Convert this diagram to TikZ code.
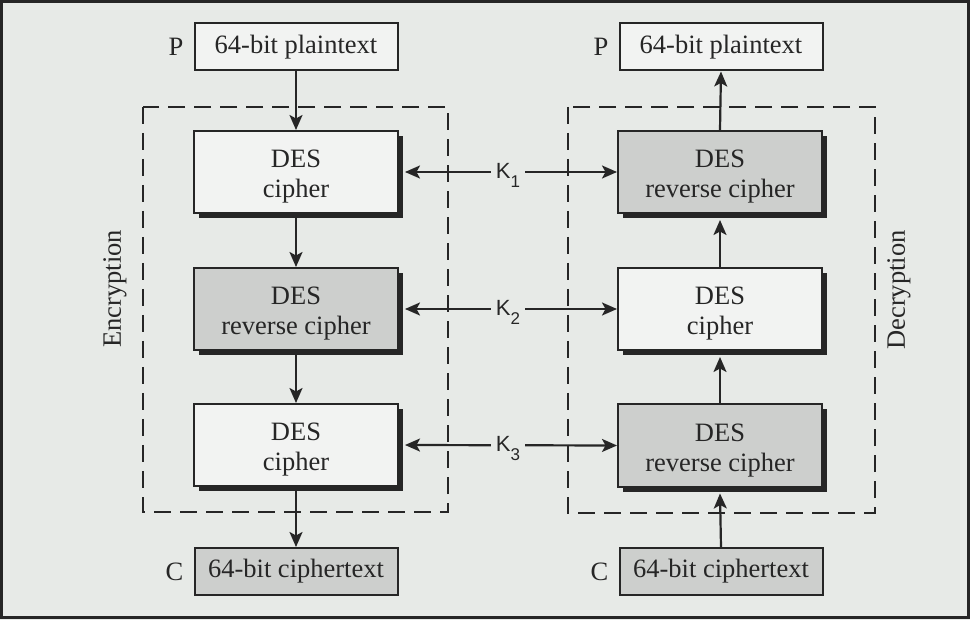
\documentclass[tikz,border=0pt]{standalone}
\usepackage{fontspec}
\setmainfont{Liberation Serif}
\newfontfamily\keyfont{Liberation Sans}
\usetikzlibrary{arrows.meta,shadows,calc}
\definecolor{bg}{HTML}{E7EAE7}
\definecolor{wbox}{HTML}{F2F3F2}
\definecolor{gbox}{HTML}{CDCFCD}
\definecolor{ink}{HTML}{262626}
\newcommand{\twolines}[2]{\raisebox{-5pt}[\height][\depth]{\begin{tabular}{@{}c@{}}#1\\#2\end{tabular}}}
\newcommand{\keytext}[1]{K\raisebox{-9pt}{\fontsize{17}{17}\selectfont #1}}
\begin{document}
\begin{tikzpicture}[x=1pt,y=-1pt,
  every node/.style={font=\fontsize{26.5}{30}\selectfont, text=ink},
  iobox/.style={draw=ink, line width=2pt, minimum width=203pt, minimum height=47pt, inner sep=0pt},
  desbox/.style={draw=ink, line width=2pt, minimum width=204pt, minimum height=82pt, inner sep=0pt,
     general shadow={fill=ink, opacity=1, shadow xshift=5pt, shadow yshift=-5pt}},
  lab/.style={inner sep=0pt, anchor=east},
  keylab/.style={font=\keyfont\fontsize{22}{22}\selectfont, fill=bg, inner xsep=5pt, inner ysep=1pt},
  arr/.style={draw=ink, line width=2.2pt, -{Stealth[length=15pt,width=13pt,inset=3.5pt]}},
  darr/.style={draw=ink, line width=2.2pt, {Stealth[length=15pt,width=13pt,inset=3.5pt]}-{Stealth[length=15pt,width=13pt,inset=3.5pt]}},
  dashbox/.style={draw=ink, line width=2.8pt, dash pattern=on 17pt off 9pt}
]
\fill[bg] (0,0) rectangle (970,620);
\useasboundingbox (0,0) rectangle (970,620);
\draw[ink, line width=3pt] (1.5,1.5) rectangle (968,617.5);

% dashed frames
\draw[dashbox] (143,107) rectangle (448,512);
\draw[dashbox] (568,107) rectangle (875,513);

% left column (encryption)
\node[iobox, fill=wbox] (pL) at (296,47) {64-bit plaintext};
\node[lab] (pLl) at ($(pL.west)+(-10,0)$) {P};
\node[desbox, fill=wbox] (b1L) at (296,172) {\twolines{DES}{cipher}};
\node[desbox, fill=gbox] (b2L) at (296,309) {\twolines{DES}{reverse cipher}};
\node[desbox, fill=wbox] (b3L) at (296,445) {\twolines{DES}{cipher}};
\node[iobox, fill=gbox] (cL) at (296,571.5) {64-bit ciphertext};
\node[lab] (cLl) at ($(cL.west)+(-10,0)$) {C};

% right column (decryption)
\node[iobox, fill=wbox] (pR) at (721,47) {64-bit plaintext};
\node[lab] (pRl) at ($(pR.west)+(-10,0)$) {P};
\node[desbox, fill=gbox] (b1R) at (720,172) {\twolines{DES}{reverse cipher}};
\node[desbox, fill=wbox] (b2R) at (720,309) {\twolines{DES}{cipher}};
\node[desbox, fill=gbox] (b3R) at (720,445.5) {\twolines{DES}{reverse cipher}};
\node[iobox, fill=gbox] (cR) at (721,571.5) {64-bit ciphertext};
\node[lab] (cRl) at ($(cR.west)+(-10,0)$) {C};

% side labels
\node[rotate=90] (enc) at (115,289) {Encryption};
\node[rotate=90] (dec) at (899,290) {Decryption};

% vertical arrows, encryption
\draw[arr] (pL.south) -- (b1L.north);
\draw[arr] (b1L.south) -- (b2L.north);
\draw[arr] (b2L.south) -- (b3L.north);
\draw[arr] (b3L.south) -- (cL.north);

% vertical arrows, decryption
\draw[arr] (cR.north) -- ($(b3R.south)+(0,6)$);
\draw[arr] (b3R.north) -- ($(b2R.south)+(0,6)$);
\draw[arr] (b2R.north) -- ($(b1R.south)+(0,6)$);
\draw[arr] (b1R.north) -- (pR.south);

% key arrows
\draw[darr] ($(b1L.east)+(6,0)$) -- (b1R.west);
\draw[darr] ($(b2L.east)+(6,0)$) -- (b2R.west);
\draw[darr] ($(b3L.east)+(6,0)$) -- (b3R.west);
\node[keylab] (k1) at ($(b1L.east)!0.5!(b1R.west)+(0,3)$) {\keytext{1}};
\node[keylab] (k2) at ($(b2L.east)!0.5!(b2R.west)+(0,3)$) {\keytext{2}};
\node[keylab] (k3) at ($(b3L.east)!0.5!(b3R.west)+(0,3)$) {\keytext{3}};
\end{tikzpicture}
\end{document}
